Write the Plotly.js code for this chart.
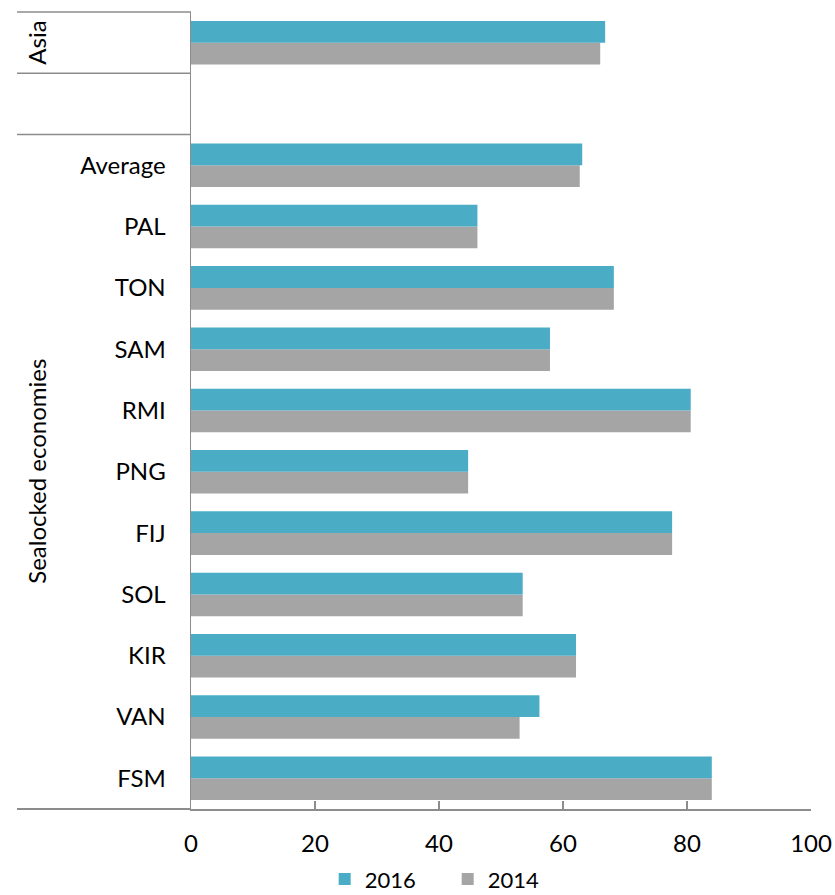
<!DOCTYPE html>
<html>
<head>
<meta charset="utf-8">
<script src="https://cdn.plot.ly/plotly-3.0.1.min.js"></script>
<style>
  html, body { margin: 0; padding: 0; background: #ffffff; }
  #chart { width: 835px; height: 895px; }
</style>
</head>
<body>
<div id="chart"></div>
<script>
// Economies, bottom to top; the blank entry separates the two groups
const categories = ["FSM", "VAN", "KIR", "SOL", "FIJ", "PNG", "RMI", "SAM", "TON", "PAL", "Average", " ", "Asia"];
// Asia is named by its group label only, so its own tick text stays empty
const categoryLabels = ["FSM", "VAN", "KIR", "SOL", "FIJ", "PNG", "RMI", "SAM", "TON", "PAL", "Average", "", ""];
const values2016 = [84.0, 56.2, 62.1, 53.5, 77.6, 44.7, 80.6, 57.9, 68.2, 46.2, 63.1, null, 66.8];
const values2014 = [84.0, 53.0, 62.1, 53.5, 77.6, 44.7, 80.6, 57.9, 68.2, 46.2, 62.7, null, 66.0];
const xTicks = [0, 20, 40, 60, 80, 100];
const groupLabels = ["Asia", "Sealocked economies"];

const FONT = "Lato, 'Open Sans', sans-serif";
const FS = 24;
const AXIS = "#8c8c8c";
const n = categories.length;
// paper-y of the boundary just above category index i
const edge = i => (i + 1) / n;
// paper-y of the centre of category index i
const mid = i => (i + 0.5) / n;

const traces = [
  {
    type: "bar", orientation: "h", name: "2014",
    y: categories, x: values2014,
    marker: { color: "#a5a5a5" },
    legendrank: 2, hoverinfo: "x+name"
  },
  {
    type: "bar", orientation: "h", name: "2016",
    y: categories, x: values2016,
    marker: { color: "#4bacc6" },
    legendrank: 1, hoverinfo: "x+name"
  }
];

const left = -174 / 620; // outer edge of the group label column

const shapes = [
  // group dividers in the label column: top of Asia, Asia / spacer, spacer / Sealocked
  { type: "line", xref: "paper", yref: "paper", x0: left, x1: 0, y0: edge(12), y1: edge(12), line: { color: AXIS, width: 1.5 } },
  { type: "line", xref: "paper", yref: "paper", x0: left, x1: 0, y0: edge(11), y1: edge(11), line: { color: AXIS, width: 1.5 } },
  { type: "line", xref: "paper", yref: "paper", x0: left, x1: 0, y0: edge(10), y1: edge(10), line: { color: AXIS, width: 1.5 } },
  // bottom rule continued under the label column
  { type: "line", xref: "paper", yref: "paper", x0: left, x1: 0, y0: 0, y1: 0, line: { color: AXIS, width: 2 } }
];

const labelX = -154 / 620;
const annotations = [
  { text: groupLabels[0], xref: "paper", yref: "paper", x: labelX, y: mid(12),
    textangle: -90, showarrow: false, xanchor: "center", yanchor: "middle",
    font: { family: FONT, size: FS, color: "#000" } },
  { text: groupLabels[1], xref: "paper", yref: "paper", x: labelX, y: (edge(10) + 0) / 2,
    textangle: -90, showarrow: false, xanchor: "center", yanchor: "middle",
    font: { family: FONT, size: FS, color: "#000" } }
];

const layout = {
  width: 835, height: 895,
  margin: { l: 191, r: 24, t: 12, b: 86, autoexpand: false },
  paper_bgcolor: "#ffffff", plot_bgcolor: "#ffffff",
  barmode: "group", bargap: 0.29, bargroupgap: 0,
  font: { family: FONT, size: FS, color: "#000" },
  xaxis: {
    range: [0, 100], tickvals: xTicks, ticktext: xTicks.map(String),
    showgrid: false, zeroline: false,
    showline: true, linecolor: AXIS, linewidth: 2,
    ticks: "inside", ticklen: 8, tickwidth: 1.5, tickcolor: AXIS,
    ticklabelstandoff: 12,
    tickfont: { family: FONT, size: FS, color: "#000" },
    fixedrange: true, automargin: false
  },
  yaxis: {
    type: "category", categoryorder: "array", categoryarray: categories,
    tickvals: categories, ticktext: categoryLabels,
    range: [-0.5, n - 0.5],
    showgrid: false, zeroline: false,
    showline: true, linecolor: AXIS, linewidth: 1.5,
    ticks: "", ticklabelstandoff: 19,
    tickfont: { family: FONT, size: FS, color: "#000" },
    fixedrange: true, automargin: false
  },
  showlegend: true,
  legend: {
    orientation: "h", x: 0.414, xanchor: "center", y: -0.088, yanchor: "middle",
    font: { family: FONT, size: 22, color: "#000" },
    itemwidth: 30, entrywidth: 78
  },
  shapes: shapes,
  annotations: annotations
};

Plotly.newPlot("chart", traces, layout, { displayModeBar: false, staticPlot: true });
</script>
</body>
</html>
